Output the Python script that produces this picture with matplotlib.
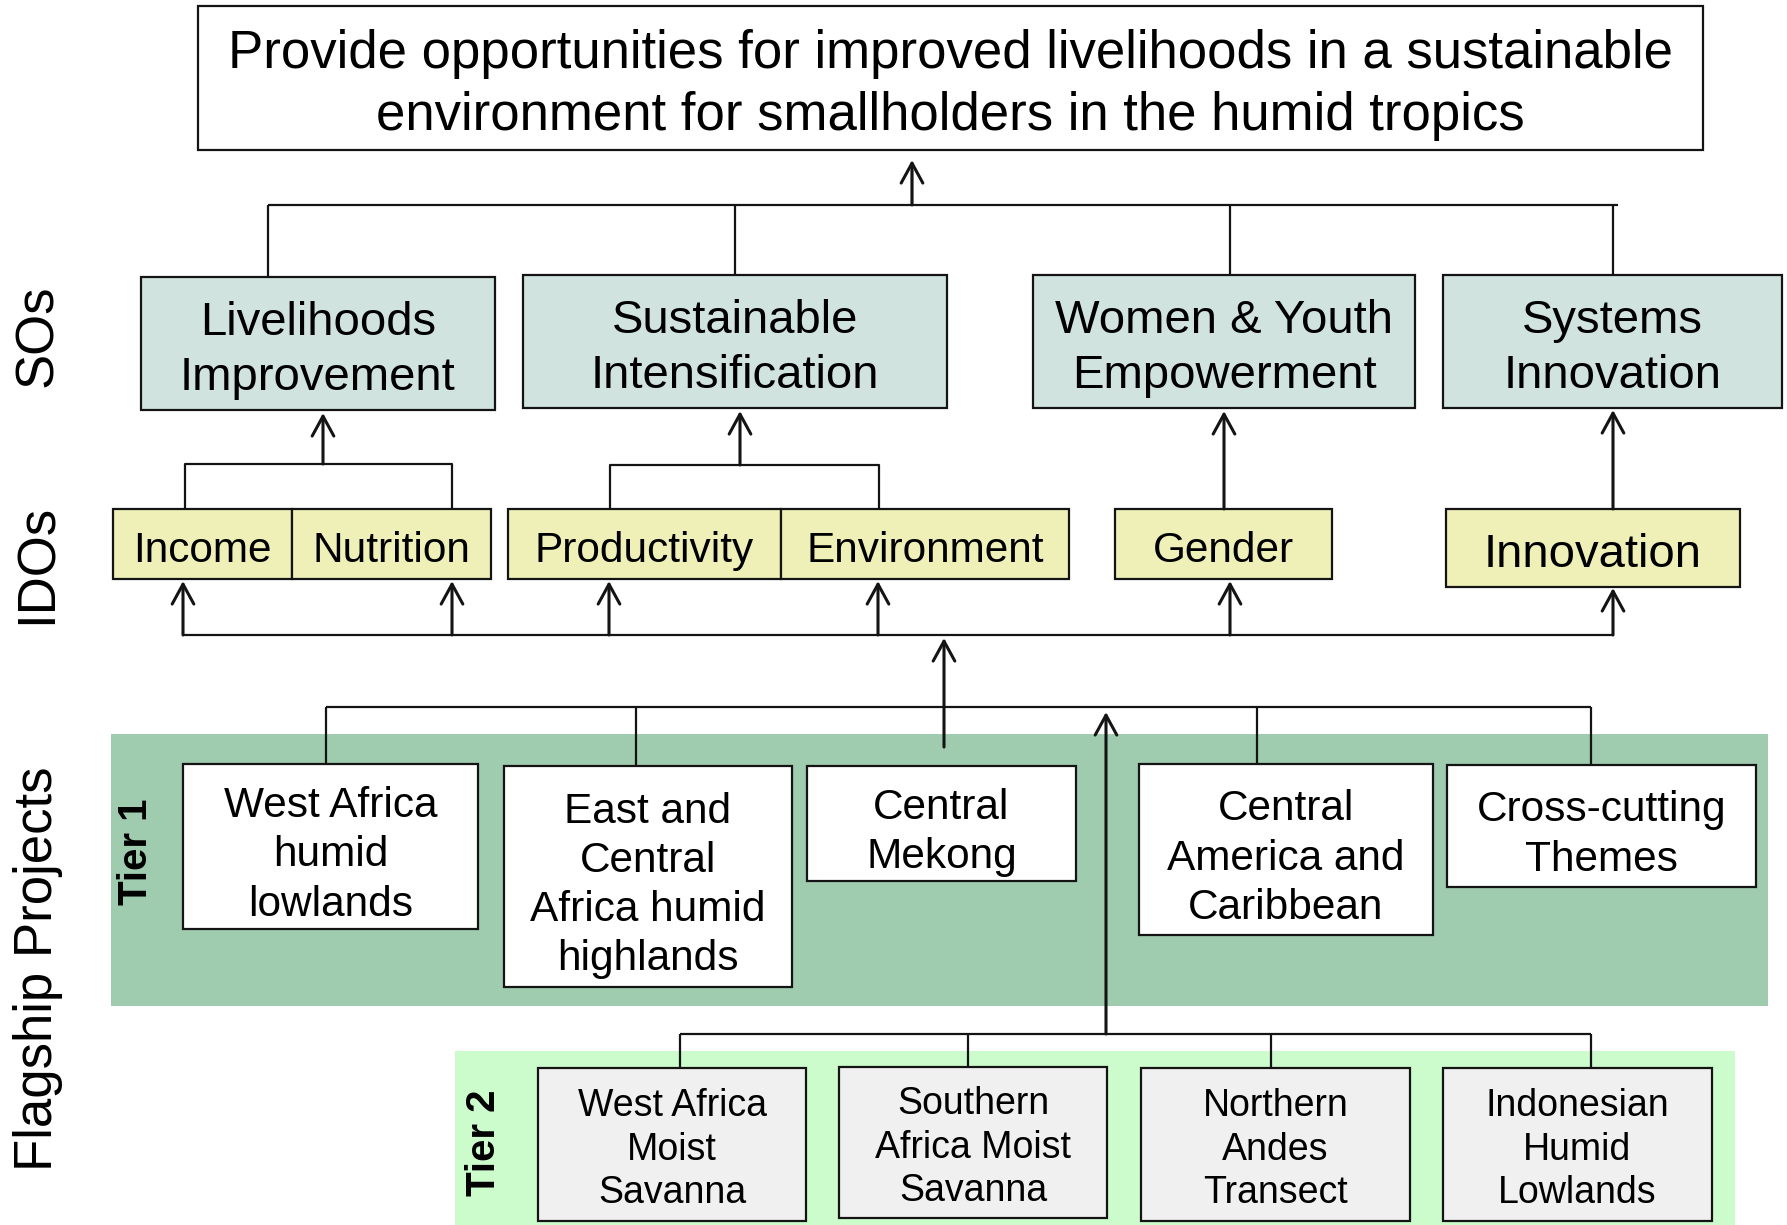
import matplotlib
matplotlib.use("Agg")
import matplotlib.pyplot as plt
from matplotlib.patches import Rectangle

plt.rcParams['font.family'] = ['Liberation Sans', 'DejaVu Sans']

# ---- labels of the diagram ----
goal_text = "Provide opportunities for improved livelihoods in a sustainable\nenvironment for smallholders in the humid tropics"
so_labels = ["Livelihoods\nImprovement", "Sustainable\nIntensification",
             "Women & Youth\nEmpowerment", "Systems\nInnovation"]
ido_labels = ["Income", "Nutrition", "Productivity", "Environment",
              "Gender", "Innovation"]
tier1_labels = ["West Africa\nhumid\nlowlands", "East and\nCentral\nAfrica humid\nhighlands",
                "Central\nMekong", "Central\nAmerica and\nCaribbean", "Cross-cutting\nThemes"]
tier2_labels = ["West Africa\nMoist\nSavanna", "Southern\nAfrica Moist\nSavanna",
                "Northern\nAndes\nTransect", "Indonesian\nHumid\nLowlands"]
side_labels = ["SOs", "IDOs", "Flagship Projects"]
tier_labels = ["Tier 1", "Tier 2"]

# ---- layout (pixels, y downwards) ----
so_boxes = [(141, 277, 495, 410), (523, 275, 947, 408),
            (1033, 275, 1415, 408), (1443, 275, 1782, 408)]
ido_boxes = [(113, 509, 292, 579), (292, 509, 491, 579), (508, 509, 781, 579),
             (781, 509, 1069, 579), (1115, 509, 1332, 579), (1446, 509, 1740, 587)]
ido_size = [30.5, 30.5, 30.5, 30.5, 30.5, 34]
t1_boxes = [(183, 764, 478, 929), (504, 766, 792, 987), (807, 766, 1076, 881),
            (1139, 764, 1433, 935), (1447, 765, 1756, 887)]
t2_boxes = [(538, 1068, 806, 1221), (839, 1067, 1107, 1218),
            (1141, 1068, 1410, 1221), (1443, 1068, 1712, 1221)]

LC = "#141414"
LW = 1.6

fig = plt.figure(figsize=(17.87, 12.25), dpi=100)
ax = fig.add_axes([0, 0, 1, 1])
ax.set_xlim(0, 1787)
ax.set_ylim(1225, 0)
ax.axis("off")


def box(b, face, txt, size, dy=7, ls=1.3, z=3):
    x0, y0, x1, y1 = b
    ax.add_patch(Rectangle((x0, y0), x1 - x0, y1 - y0, facecolor=face,
                           edgecolor=LC, lw=LW, zorder=z))
    ax.text((x0 + x1) / 2, (y0 + y1) / 2 + dy, txt, ha="center", va="center",
            fontsize=size, linespacing=ls, zorder=z + 1)


def line(xs, ys):
    ax.plot(xs, ys, color=LC, lw=LW, solid_capstyle="butt", zorder=2)


def arrow(x, y_from, y_to):
    ax.annotate("", xy=(x, y_to), xytext=(x, y_from),
                arrowprops=dict(arrowstyle="->,head_length=0.55,head_width=0.3",
                                mutation_scale=26, color=LC, lw=2.2,
                                shrinkA=0, shrinkB=0), zorder=5)


# background bands
ax.add_patch(Rectangle((111, 734), 1657, 272, facecolor="#9fcbae",
                       edgecolor="none", zorder=0))
ax.add_patch(Rectangle((455, 1051), 1280, 174, facecolor="#ccfccc",
                       edgecolor="none", zorder=0))

# goal
box((198, 6, 1703, 150), "white", goal_text, 38)
line([912, 912], [205, 170])
arrow(912, 205, 160)
line([268, 1618], [205, 205])
for x in [268, 735, 1230, 1613]:
    line([x, x], [205, 276])

# SOs
for b, t in zip(so_boxes, so_labels):
    box(b, "#d0e3df", t, 34)

# IDO -> SO connectors
line([185, 185, 452, 452], [509, 464, 464, 509])
arrow(323, 464, 413)
line([610, 610, 879, 879], [509, 465, 465, 509])
arrow(740, 465, 411)
arrow(1224, 509, 411)
arrow(1613, 509, 410)

# IDOs
for b, t, s in zip(ido_boxes, ido_labels, ido_size):
    box(b, "#eef0b8", t, s)

# flagships -> IDOs
line([183, 1613], [635, 635])
for x, tip in zip([183, 452, 609, 878, 1230, 1613],
                  [581, 581, 581, 581, 581, 588]):
    arrow(x, 635, tip)
arrow(944, 747, 638)

# tier 1
line([326, 1591], [707, 707])
for x in [326, 636, 1257, 1591]:
    line([x, x], [707, 765])
for b, t in zip(t1_boxes, tier1_labels):
    box(b, "white", t, 30.5, dy=9)

# tier 2
line([680, 1591], [1034, 1034])
for x in [680, 968, 1271, 1591]:
    line([x, x], [1034, 1068])
arrow(1106, 1034, 712)
for b, t in zip(t2_boxes, tier2_labels):
    box(b, "#f0f0f0", t, 27, dy=5, ls=1.27)

# side labels
for t, y in zip(side_labels, [336, 564, 969]):
    ax.text(38, y, t, rotation=90, ha="center", va="center", fontsize=38)
for t, (x, y) in zip(tier_labels, [(136, 852), (484, 1143)]):
    ax.text(x, y, t, rotation=90, ha="center", va="center", fontsize=29,
            fontweight="bold")

fig.savefig("out.png", dpi=100)
